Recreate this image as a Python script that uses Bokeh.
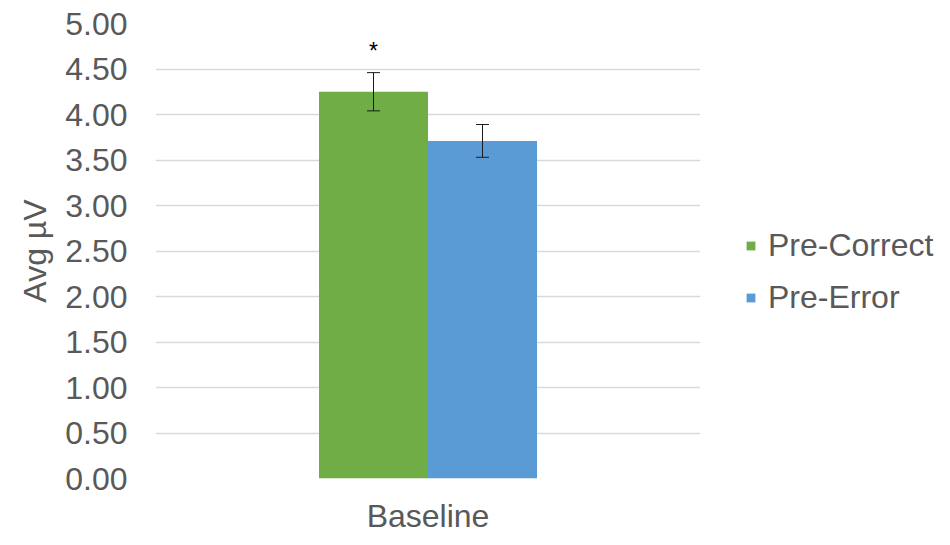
from bokeh.plotting import figure
from bokeh.models import (ColumnDataSource, FactorRange, Range1d, Legend, LegendItem,
                          Whisker, TeeHead, NumeralTickFormatter, FixedTicker)
from bokeh.transform import dodge
from bokeh.core.properties import value
from bokeh.embed import file_html
from bokeh.resources import INLINE

# ---- data ----
categories = ["Baseline"]
series = ["Pre-Correct", "Pre-Error"]
means = [4.25, 3.71]
errors = [0.21, 0.18]
marks = ["*", ""]
y_ticks = [0.0, 0.5, 1.0, 1.5, 2.0, 2.5, 3.0, 3.5, 4.0, 4.5, 5.0]
y_label = "Avg µV"

# ---- style ----
colors = ["#70AD47", "#5B9BD5"]
offsets = [-0.1, 0.1]
bar_width = 0.2
FONT = "Liberation Sans"
TXT = "#595959"
FS = "32px"

p = figure(x_range=FactorRange(*categories, range_padding=0),
           y_range=Range1d(0, 5),
           frame_width=545, frame_height=455,
           min_border_left=155, min_border_top=23, min_border_bottom=60, min_border_right=240,
           output_backend="svg", toolbar_location=None)
p.outline_line_color = None
p.background_fill_color = "white"
p.border_fill_color = "white"

items = []
for i, name in enumerate(series):
    src = ColumnDataSource(dict(cat=[categories[0]], mean=[means[i]],
                                upper=[means[i] + errors[i]], lower=[means[i] - errors[i]],
                                mark=[marks[i]], mark_y=[means[i] + errors[i] + 0.24]))
    r = p.vbar(x=dodge("cat", offsets[i], range=p.x_range), top="mean", width=bar_width,
               source=src, fill_color=colors[i], line_color=None)
    items.append(LegendItem(label=name, renderers=[r]))
    w = Whisker(base=dodge("cat", offsets[i], range=p.x_range), upper="upper", lower="lower",
                source=src, line_color="#1a1a1a", line_width=1, level="overlay",
                upper_head=TeeHead(size=13, line_color="#1a1a1a", line_width=1),
                lower_head=TeeHead(size=13, line_color="#1a1a1a", line_width=1))
    p.add_layout(w)
    p.text(x=dodge("cat", offsets[i], range=p.x_range), y="mark_y", text="mark", source=src,
           text_font=value(FONT), text_font_size="23px", text_color="#000000",
           text_align="center", text_baseline="alphabetic")

legend = Legend(items=items, location=(45, 162), orientation="vertical",
                label_text_font=FONT, label_text_font_size=FS, label_text_color=TXT,
                glyph_width=11, glyph_height=11, label_standoff=12,
                label_height=32, spacing=15, padding=0, margin=0,
                border_line_color=None, background_fill_alpha=0)
p.add_layout(legend, "right")

# axes
p.xaxis.axis_line_color = None
p.xaxis.major_tick_line_color = None
p.xaxis.minor_tick_line_color = None
p.xaxis.major_label_text_font = FONT
p.xaxis.major_label_text_font_size = FS
p.xaxis.major_label_text_color = TXT
p.xaxis.major_label_standoff = 13

p.yaxis.ticker = FixedTicker(ticks=y_ticks)
p.yaxis.formatter = NumeralTickFormatter(format="0.00")
p.yaxis.axis_line_color = None
p.yaxis.major_tick_line_color = None
p.yaxis.minor_tick_line_color = None
p.yaxis.major_label_text_font = FONT
p.yaxis.major_label_text_font_size = FS
p.yaxis.major_label_text_color = TXT
p.yaxis.major_label_standoff = 22
p.yaxis.axis_label = y_label
p.yaxis.axis_label_text_font = FONT
p.yaxis.axis_label_text_font_size = FS
p.yaxis.axis_label_text_font_style = "normal"
p.yaxis.axis_label_text_color = TXT
p.yaxis.axis_label_standoff = 9

p.xgrid.grid_line_color = None
p.ygrid.ticker = FixedTicker(ticks=y_ticks)
p.ygrid.grid_line_color = "#D9D9D9"
p.ygrid.grid_line_width = 1.5

open("out.html", "w").write(file_html(p, INLINE))
